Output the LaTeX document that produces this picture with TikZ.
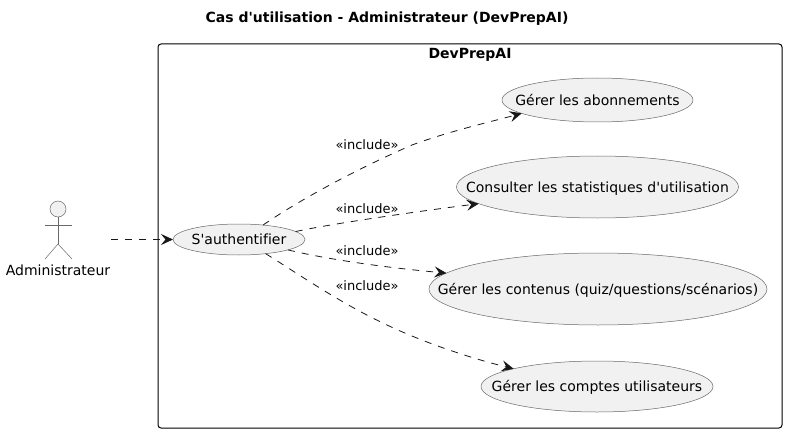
\documentclass[tikz,border=0pt]{standalone}
\usepackage{fontspec}
\setmainfont{DejaVu Sans}[Ligatures={TeXOff,NoCommon}]
\usetikzlibrary{shapes.geometric,arrows.meta}
\definecolor{ucfill}{HTML}{F1F1F1}
\definecolor{ucline}{HTML}{181818}
\definecolor{ucedge}{HTML}{686868}
\newcommand{\uctext}[1]{\raisebox{-.37em}[0pt][0pt]{\makebox[0pt]{#1}}}
\tikzset{
  uc/.style={ellipse,draw=ucedge,line width=0.5pt,fill=ucfill,inner sep=0pt,outer sep=0pt,font=\fontsize{14}{16}\selectfont,text=black},
  dep/.style={draw=ucline,line width=0.8pt,dash pattern=on 7pt off 7pt,-{Stealth[length=12pt,width=11pt,inset=4.5pt]}},
  lab/.style={font=\fontsize{13}{15}\selectfont,text=black,inner sep=0pt},
  actorline/.style={draw=ucedge,line width=0.5pt},
}
\begin{document}
\begin{tikzpicture}[x=1pt,y=-1pt]
\useasboundingbox (0,0) rectangle (787,433);
\fill[white] (0,0) rectangle (787,433);
\node[font=\fontsize{14}{16}\selectfont\bfseries,inner sep=0pt] (title) at (387,19) {Cas d'utilisation - Administrateur (DevPrepAI)};
\node[draw=black,line width=1pt,rounded corners=3pt,minimum width=624pt,minimum height=384pt,inner sep=0pt,outer sep=0pt] (sys) at (470,236) {};
\node[font=\fontsize{14}{16}\selectfont\bfseries,inner sep=0pt] (systitle) at (470,54.5) {DevPrepAI};
% actor
\node[circle,draw=ucedge,line width=0.5pt,fill=ucfill,minimum size=16pt,inner sep=0pt,outer sep=0pt] (head) at (58,209) {};
\coordinate (hip) at (58,244);
\coordinate (armL) at (45,225);
\coordinate (armR) at (72,225);
\coordinate (legL) at (45,259);
\coordinate (legR) at (72,259);
\draw[actorline] (head.south) -- (hip);
\draw[actorline] (armL) -- (armR);
\draw[actorline] (legL) -- (hip) -- (legR);
\node[font=\fontsize{14}{16}\selectfont,inner sep=0pt] (actor) at (58,270) {Administrateur};
\coordinate (actorout) at (111,239.5);
% use cases
\node[uc,minimum width=132pt,minimum height=31pt] (auth) at (239,239.5) {\uctext{S'authentifier}};
\node[uc,minimum width=191pt,minimum height=44pt] (abo) at (597.5,100) {\uctext{Gérer les abonnements}};
\node[uc,minimum width=282pt,minimum height=62pt] (stat) at (597.5,187) {\uctext{Consulter les statistiques d'utilisation}};
\node[uc,minimum width=338pt,minimum height=72pt] (cont) at (598,289) {\uctext{Gérer les contenus (quiz/questions/scénarios)}};
\node[uc,minimum width=232pt,minimum height=51pt] (comp) at (597,386.5) {\uctext{Gérer les comptes utilisateurs}};
% connectors
\draw[dep] (actorout) -- (auth.west);
\draw[dep] (auth.31) .. controls (295,203) and (350,172) .. (412,145) .. controls (450,131) and (490,122) .. (abo.190);
\draw[dep] (auth.8) .. controls (330,224) and (420,211) .. (stat.188.4);
\draw[dep] (auth.-12.5) .. controls (330,260) and (390,268) .. (cont.174.7);
\draw[dep] (auth.-28.6) .. controls (300,275) and (340,303) .. (387,325) .. controls (425,343) and (470,358) .. (comp.168.2);
% labels
\node[lab] (l1) at (367,144.5) {«include»};
\node[lab] (l2) at (367,208.5) {«include»};
\node[lab] (l3) at (367,250.5) {«include»};
\node[lab] (l4) at (367,285.5) {«include»};
\end{tikzpicture}
\end{document}
